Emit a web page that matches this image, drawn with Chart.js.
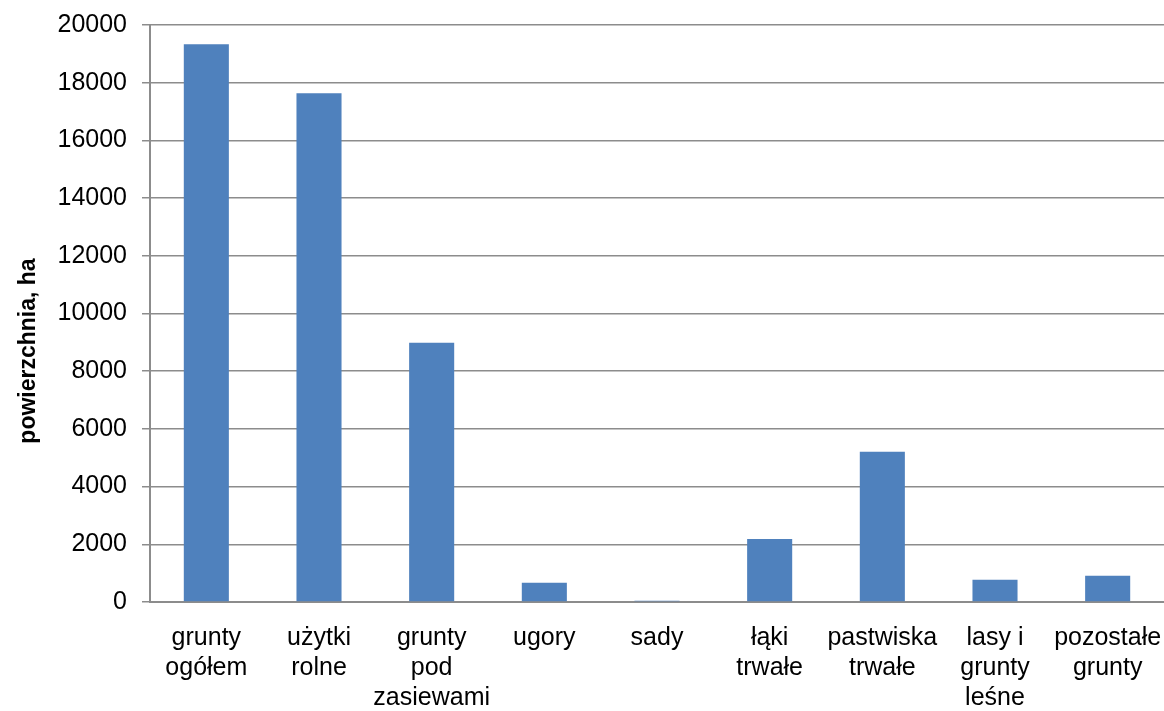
<!DOCTYPE html>
<html lang="pl">
<head>
<meta charset="utf-8">
<title>Powierzchnia gruntów</title>
<script src="https://cdn.jsdelivr.net/npm/chart.js@4/dist/chart.umd.min.js"></script>
<style>
  html, body { margin: 0; padding: 0; background: #ffffff; }
  #wrap { position: relative; width: 1164px; height: 711px; }
</style>
</head>
<body>
<div id="wrap"><canvas id="chart" width="1164" height="711"></canvas></div>
<script>
// Kategorie użytkowania gruntów (etykiety wielowierszowe)
const categories = [
  ["grunty", "ogółem"],
  ["użytki", "rolne"],
  ["grunty", "pod", "zasiewami"],
  "ugory",
  "sady",
  ["łąki", "trwałe"],
  ["pastwiska", "trwałe"],
  ["lasy i", "grunty", "leśne"],
  ["pozostałe", "grunty"]
];

// Powierzchnia w hektarach
const areaHa = [19330, 17630, 8990, 668, 45, 2182, 5205, 772, 911];

// Podziałka osi Y
const yMin = 0;
const yMax = 20000;
const yStep = 2000;

const axisTitle = "powierzchnia, ha";

const FONT = "'Liberation Sans', Arial, sans-serif";
const GRID = "#8c8c8c";

// Pionowy tytuł osi Y, rysowany obok osi
const yTitlePlugin = {
  id: "yTitle",
  afterDraw(chart) {
    const ctx = chart.ctx;
    ctx.save();
    ctx.translate(29, 351);
    ctx.rotate(-Math.PI / 2);
    ctx.font = "bold 23px " + FONT;
    ctx.fillStyle = "#000000";
    ctx.textAlign = "center";
    ctx.textBaseline = "middle";
    ctx.fillText(axisTitle, 0, 0);
    ctx.restore();
  }
};

new Chart(document.getElementById("chart"), {
  type: "bar",
  data: {
    labels: categories,
    datasets: [{
      data: areaHa,
      backgroundColor: "#4f81bd",
      borderWidth: 0,
      barPercentage: 0.8,
      categoryPercentage: 0.5
    }]
  },
  options: {
    responsive: false,
    animation: false,
    devicePixelRatio: 1,
    layout: { padding: { top: 25, right: 0, bottom: 0, left: 0 } },
    plugins: {
      legend: { display: false },
      tooltip: { enabled: false }
    },
    scales: {
      x: {
        grid: { display: false, drawTicks: false },
        border: { display: true, color: GRID, width: 2 },
        ticks: {
          color: "#000000",
          font: { family: FONT, size: 25, lineHeight: 1.2 },
          padding: 21,
          maxRotation: 0,
          autoSkip: false
        },
        afterFit: (scale) => {
          scale.height = 109;
          scale.paddingLeft = 0;
          scale.paddingRight = 0;
        }
      },
      y: {
        min: yMin,
        max: yMax,
        grid: {
          color: GRID,
          lineWidth: 1.5,
          tickLength: 8,
          drawOnChartArea: true
        },
        border: { display: true, color: GRID, width: 2 },
        ticks: {
          stepSize: yStep,
          color: "#000000",
          font: { family: FONT, size: 25 },
          padding: 15,
          callback: (v) => String(v)
        },
        afterFit: (scale) => {
          scale.width = 150;
          scale.paddingTop = 0;
          scale.paddingBottom = 0;
        }
      }
    }
  },
  plugins: [yTitlePlugin]
});
</script>
</body>
</html>
